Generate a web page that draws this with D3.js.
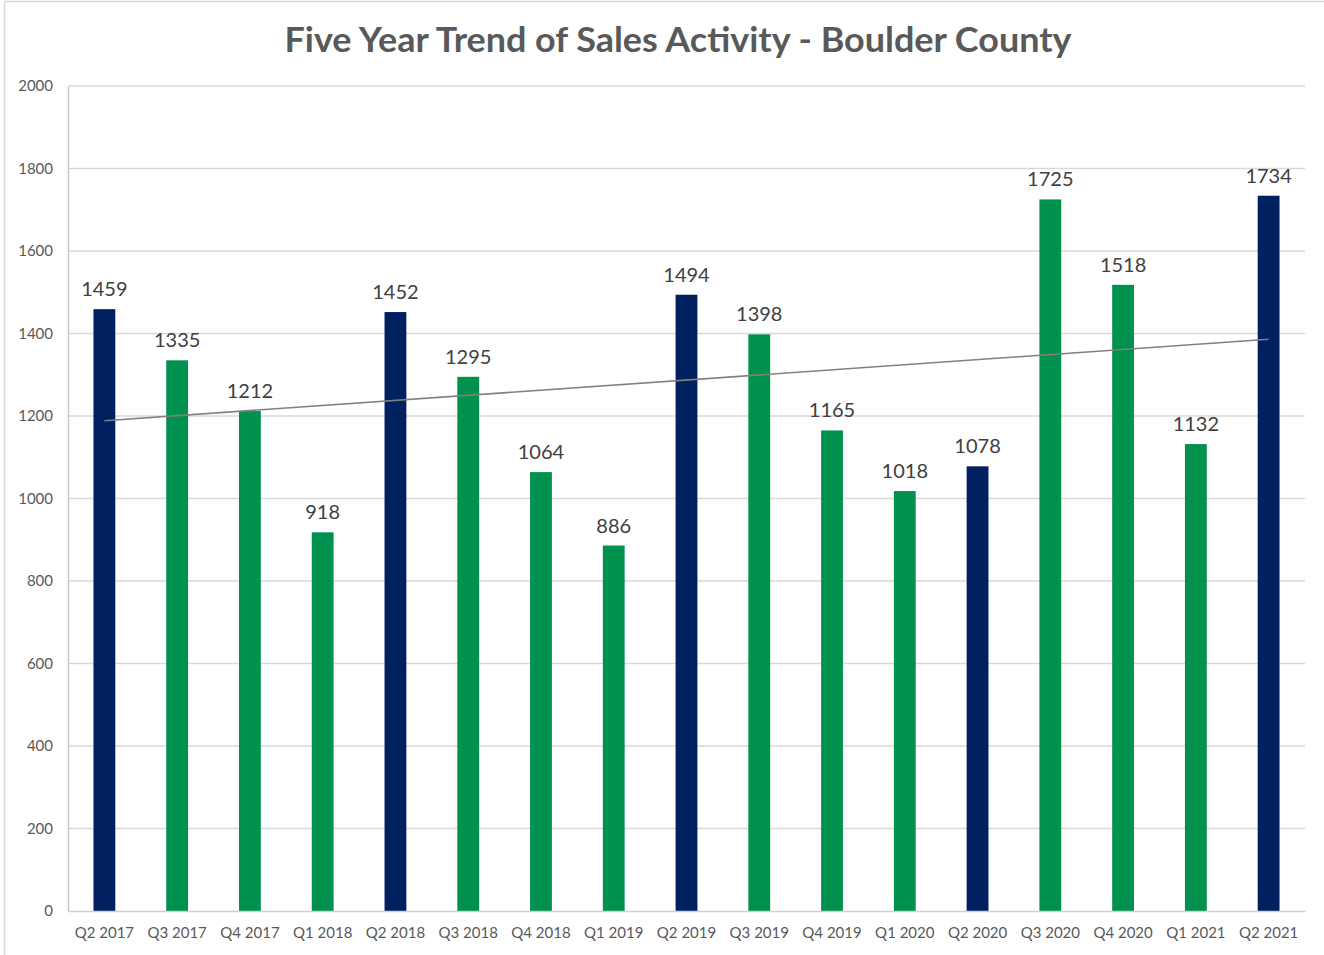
<!DOCTYPE html>
<html>
<head>
<meta charset="utf-8">
<script src="https://cdn.jsdelivr.net/npm/d3@7"></script>
<style>
  body { margin: 0; background: #fff; }
  svg { display: block; font-family: Lato, "Open Sans", sans-serif; }
</style>
</head>
<body>
<div class="chart"></div>
<script>
// Quarterly sales counts
var quarters = ["Q2 2017", "Q3 2017", "Q4 2017", "Q1 2018", "Q2 2018", "Q3 2018",
    "Q4 2018", "Q1 2019", "Q2 2019", "Q3 2019", "Q4 2019", "Q1 2020", "Q2 2020",
    "Q3 2020", "Q4 2020", "Q1 2021", "Q2 2021"];
var sales = [1459, 1335, 1212, 918, 1452, 1295, 1064, 886, 1494, 1398, 1165,
    1018, 1078, 1725, 1518, 1132, 1734];
var yTicks = [0, 200, 400, 600, 800, 1000, 1200, 1400, 1600, 1800, 2000];

var width = 1324;
var height = 955;
var plot = {left: 68, right: 1305, top: 86, bottom: 911};

var navy = "#002060";
var green = "#00914f";

var svg = d3.select(".chart").append("svg")
    .attr("width", width)
    .attr("height", height);

// outer frame (top and left edges are visible)
svg.append("line")
    .attr("x1", 4.5).attr("x2", width).attr("y1", 1.5).attr("y2", 1.5)
    .attr("stroke", "#d9d9d9").attr("stroke-width", 1.5);
svg.append("line")
    .attr("x1", 4.5).attr("x2", 4.5).attr("y1", 1.5).attr("y2", height)
    .attr("stroke", "#d9d9d9").attr("stroke-width", 1.5);

var x = d3.scaleBand()
    .domain(quarters)
    .range([plot.left, plot.right])
    .paddingInner(0.7)
    .paddingOuter(0.35);

var y = d3.scaleLinear()
    .domain([0, 2000])
    .range([plot.bottom, plot.top]);

// gridlines
svg.append("g")
    .selectAll("line")
    .data(yTicks.slice(1))
    .enter().append("line")
      .attr("x1", plot.left)
      .attr("x2", plot.right)
      .attr("y1", function(d) { return y(d); })
      .attr("y2", function(d) { return y(d); })
      .attr("stroke", "#d9d9d9")
      .attr("stroke-width", 1.3);

// y axis
var yAxis = svg.append("g")
    .attr("transform", "translate(" + plot.left + ",0)")
    .call(d3.axisLeft(y).tickValues(yTicks).tickFormat(d3.format("d"))
        .tickSize(0).tickPadding(15));
yAxis.select(".domain").attr("stroke", "#c8c8c8").attr("stroke-width", 1.5);
yAxis.selectAll("text")
    .attr("fill", "#595959")
    .style("font-family", "Lato, sans-serif")
    .style("font-size", "15px");

// bars
svg.append("g")
    .selectAll("rect")
    .data(sales)
    .enter().append("rect")
      .attr("x", function(d, i) { return x(quarters[i]); })
      .attr("y", function(d) { return y(d); })
      .attr("width", x.bandwidth())
      .attr("height", function(d) { return y(0) - y(d); })
      .attr("fill", function(d, i) { return quarters[i].indexOf("Q2") === 0 ? navy : green; });

// x axis
var xAxis = svg.append("g")
    .attr("transform", "translate(0," + plot.bottom + ")")
    .call(d3.axisBottom(x).tickSize(0).tickPadding(16));
xAxis.select(".domain").attr("stroke", "#d0d0d0").attr("stroke-width", 1.5);
xAxis.selectAll("text")
    .attr("fill", "#595959")
    .style("font-family", "Lato, sans-serif")
    .style("font-size", "15px");

// linear trendline (least squares over the quarters)
var n = sales.length;
var meanX = (n - 1) / 2;
var meanY = d3.mean(sales);
var sxy = d3.sum(sales, function(d, i) { return (i - meanX) * (d - meanY); });
var sxx = d3.sum(sales, function(d, i) { return (i - meanX) * (i - meanX); });
var slope = sxy / sxx;
var intercept = meanY - slope * meanX;
var half = x.bandwidth() / 2;

svg.append("line")
    .attr("x1", x(quarters[0]) + half)
    .attr("x2", x(quarters[n - 1]) + half)
    .attr("y1", y(intercept))
    .attr("y2", y(intercept + slope * (n - 1)))
    .attr("stroke", "#808080")
    .attr("stroke-width", 1.6);

// value labels
svg.append("g")
    .selectAll("text")
    .data(sales)
    .enter().append("text")
      .attr("x", function(d, i) { return x(quarters[i]) + half; })
      .attr("y", function(d) { return y(d) - 13; })
      .attr("text-anchor", "middle")
      .attr("fill", "#404040")
      .style("font-size", "20px")
      .text(function(d) { return d; });

// title
svg.append("text")
    .attr("x", 678)
    .attr("y", 52)
    .attr("text-anchor", "middle")
    .attr("fill", "#595959")
    .attr("textLength", 787)
    .attr("lengthAdjust", "spacingAndGlyphs")
    .style("font-size", "35px")
    .style("font-weight", "bold")
    .text("Five Year Trend of Sales Activity - Boulder County");
</script>
</body>
</html>
